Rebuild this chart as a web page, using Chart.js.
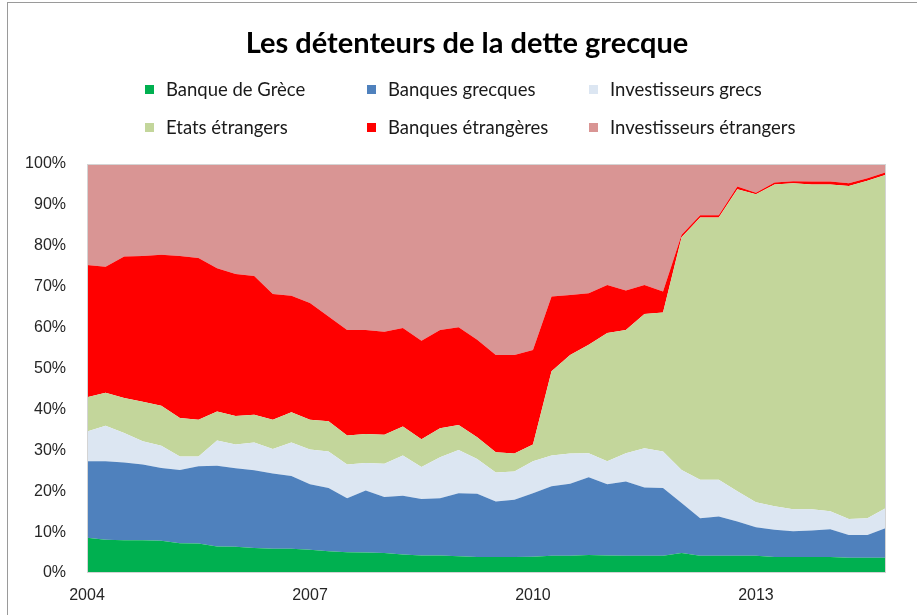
<!DOCTYPE html>
<html>
<head>
<meta charset="utf-8">
<script src="https://cdn.jsdelivr.net/npm/chart.js@4.4.1/dist/chart.umd.min.js"></script>
<style>
  body { margin: 0; overflow: hidden; background: #fff; }
  #wrap { position: relative; width: 917px; height: 615px; }
  #frame { position: absolute; left: 7px; top: 2px; width: 930px; height: 630px; border-left: 1px solid #9a9a9a; border-top: 1px solid #9a9a9a; }
  #title { position: absolute; left: 167px; width: 600px; top: 23px; text-align: center; white-space: nowrap; font-family: Lato, sans-serif; font-weight: bold; font-size: 29px; line-height: 38px; color: #000; }
  #legend { position: absolute; left: 0; top: 0; font-family: Lato, "Open Sans", sans-serif; font-size: 18.5px; color: #1a1a1a; }
  .item { position: absolute; white-space: nowrap; line-height: 20px; }
  .item span { position: absolute; left: 0; top: 6px; width: 9px; height: 9px; }
  .item b { font-weight: normal; position: absolute; left: 21px; top: 0; }
</style>
</head>
<body>
<div id="wrap">
  <div id="frame"></div>
  <canvas id="areaChart" width="917" height="615"></canvas>
  <div id="title"></div>
  <div id="legend"></div>
</div>
<script>
// trimestres 2004 -> 2014
let quarters = [
  '2004T1','2004T2','2004T3','2004T4','2005T1','2005T2','2005T3','2005T4',
  '2006T1','2006T2','2006T3','2006T4','2007T1','2007T2','2007T3','2007T4',
  '2008T1','2008T2','2008T3','2008T4','2009T1','2009T2','2009T3','2009T4',
  '2010T1','2010T2','2010T3','2010T4','2011T1','2011T2','2011T3','2011T4',
  '2012T1','2012T2','2012T3','2012T4','2013T1','2013T2','2013T3','2013T4',
  '2014T1','2014T2','2014T3','2014T4'
]
let tickYears = ['2004T1','2007T1','2010T1','2013T1']
let yTicks = [0,10,20,30,40,50,60,70,80,90,100]
let titre = 'Les détenteurs de la dette grecque'

let banqueGrece = [8.6,8.1,8.0,8.0,7.9,7.3,7.2,6.5,6.4,6.1,5.9,5.9,5.7,5.3,5.1,5.0,4.9,4.5,4.3,4.3,4.1,3.9,3.9,3.9,4.0,4.2,4.2,4.4,4.3,4.2,4.2,4.2,4.9,4.2,4.2,4.2,4.2,3.9,3.9,3.9,3.9,3.7,3.7,3.7]
let banquesGrecques = [18.7,19.2,19.0,18.5,17.8,17.9,18.9,19.7,19.2,19.0,18.4,17.8,16.0,15.5,13.2,15.2,13.7,14.4,13.8,14.0,15.4,15.5,13.6,14.0,15.5,17.0,17.6,19.0,17.4,18.2,16.7,16.6,12.2,9.2,9.6,8.4,7.0,6.7,6.3,6.5,6.8,5.6,5.6,7.3]
let investGrecs = [7.3,8.7,7.2,5.7,5.4,3.3,2.4,6.2,5.8,6.8,6.0,8.2,8.5,8.9,8.2,6.7,8.1,9.8,7.8,10.0,10.6,8.5,7.1,6.9,7.8,7.5,7.4,5.9,5.6,6.9,9.6,8.9,8.1,9.4,9.0,7.4,6.1,5.7,5.4,5.2,4.4,3.9,4.1,4.9]
let etatsEtrangers = [8.4,8.1,8.6,9.7,9.8,9.4,9.0,7.1,7.0,6.8,7.2,7.4,7.3,7.4,7.1,7.1,7.1,7.1,6.8,7.1,6.1,5.3,4.9,4.4,4.1,20.6,24.1,26.5,31.4,30.1,32.8,34.0,56.9,64.1,64.1,73.8,75.3,78.7,79.7,79.4,79.9,81.4,82.5,81.5]
let banquesEtrangeres = [32.3,30.8,34.6,35.6,36.9,39.6,39.5,35.0,34.7,33.9,30.7,28.5,28.5,25.6,25.8,25.4,25.2,24.1,24.1,24.0,23.9,23.8,23.8,24.1,23.1,18.3,14.7,12.6,11.7,9.7,7.1,5.1,0.6,0.6,0.6,0.7,0.4,0.5,0.5,0.7,0.7,0.7,0.6,0.6]
let investEtrangers = [24.7,25.1,22.6,22.5,22.2,22.5,23.0,25.5,26.9,27.4,31.8,32.2,34.0,37.3,40.6,40.6,41.0,40.1,43.2,40.6,39.9,43.0,46.7,46.7,45.5,32.4,32.0,31.6,29.6,30.9,29.6,31.2,17.3,12.5,12.5,5.5,7.0,4.5,4.2,4.3,4.3,4.7,3.5,2.0]

let series = [
  { label: 'Banque de Grèce', data: banqueGrece, color: '#00b050' },
  { label: 'Banques grecques', data: banquesGrecques, color: '#4f81bd' },
  { label: 'Investisseurs grecs', data: investGrecs, color: '#dce6f2' },
  { label: 'Etats étrangers', data: etatsEtrangers, color: '#c3d69b' },
  { label: 'Banques étrangères', data: banquesEtrangeres, color: '#ff0000' },
  { label: 'Investisseurs étrangers', data: investEtrangers, color: '#d99594' }
]

let plotFrame = {
  id: 'plotFrame',
  afterDatasetsDraw(chart) {
    let a = chart.chartArea, c = chart.ctx
    c.save()
    c.strokeStyle = '#d4d4d4'
    c.lineWidth = 1
    c.strokeRect(a.left + 0.5, a.top + 0.5, a.right - a.left - 1, a.bottom - a.top - 1)
    c.restore()
  }
}

let ctx = document.getElementById('areaChart').getContext('2d')
let myChart = new Chart(ctx, {
  type: 'line',
  data: {
    labels: quarters,
    datasets: series.map((s, i) => ({
      label: s.label,
      data: s.data,
      backgroundColor: s.color,
      borderColor: s.color,
      borderWidth: 0,
      pointRadius: 0,
      fill: i === 0 ? 'origin' : '-1',
      tension: 0
    }))
  },
  options: {
    responsive: false,
    animation: false,
    layout: { padding: { left: 0, right: 31, top: 164, bottom: 0 } },
    plugins: {
      legend: { display: false },
      tooltip: { enabled: false },
      title: { display: false }
    },
    scales: {
      x: {
        offset: false,
        grid: { display: false, drawTicks: false },
        border: { display: false },
        afterFit(scale) { scale.height = 42 },
        ticks: {
          autoSkip: false,
          maxRotation: 0,
          padding: 13,
          color: '#262626',
          font: { family: 'Liberation Sans', size: 16 },
          callback(v, i) { return tickYears.includes(quarters[i]) ? quarters[i].slice(0, 4) : '' }
        }
      },
      y: {
        stacked: true,
        min: 0,
        max: 100,
        grid: { display: false, drawTicks: false },
        border: { display: false },
        afterFit(scale) { scale.width = 87 },
        afterBuildTicks(scale) { scale.ticks = yTicks.map(v => ({ value: v })) },
        ticks: {
          padding: 21,
          color: '#262626',
          font: { family: 'Liberation Sans', size: 16 },
          callback(v) { return v + '%' }
        }
      }
    }
  },
  plugins: [plotFrame]
})

document.getElementById('title').textContent = titre

// legende en 2 lignes x 3 colonnes
let colX = [145, 367, 589], rowY = [79, 117]
let legend = document.getElementById('legend')
myChart.data.datasets.forEach((d, i) => {
  let el = document.createElement('div')
  el.className = 'item'
  el.style.left = colX[i % 3] + 'px'
  el.style.top = rowY[Math.floor(i / 3)] + 'px'
  el.innerHTML = '<span style="background:' + d.backgroundColor + '"></span><b>' + d.label + '</b>'
  legend.appendChild(el)
})
</script>
</body>
</html>
